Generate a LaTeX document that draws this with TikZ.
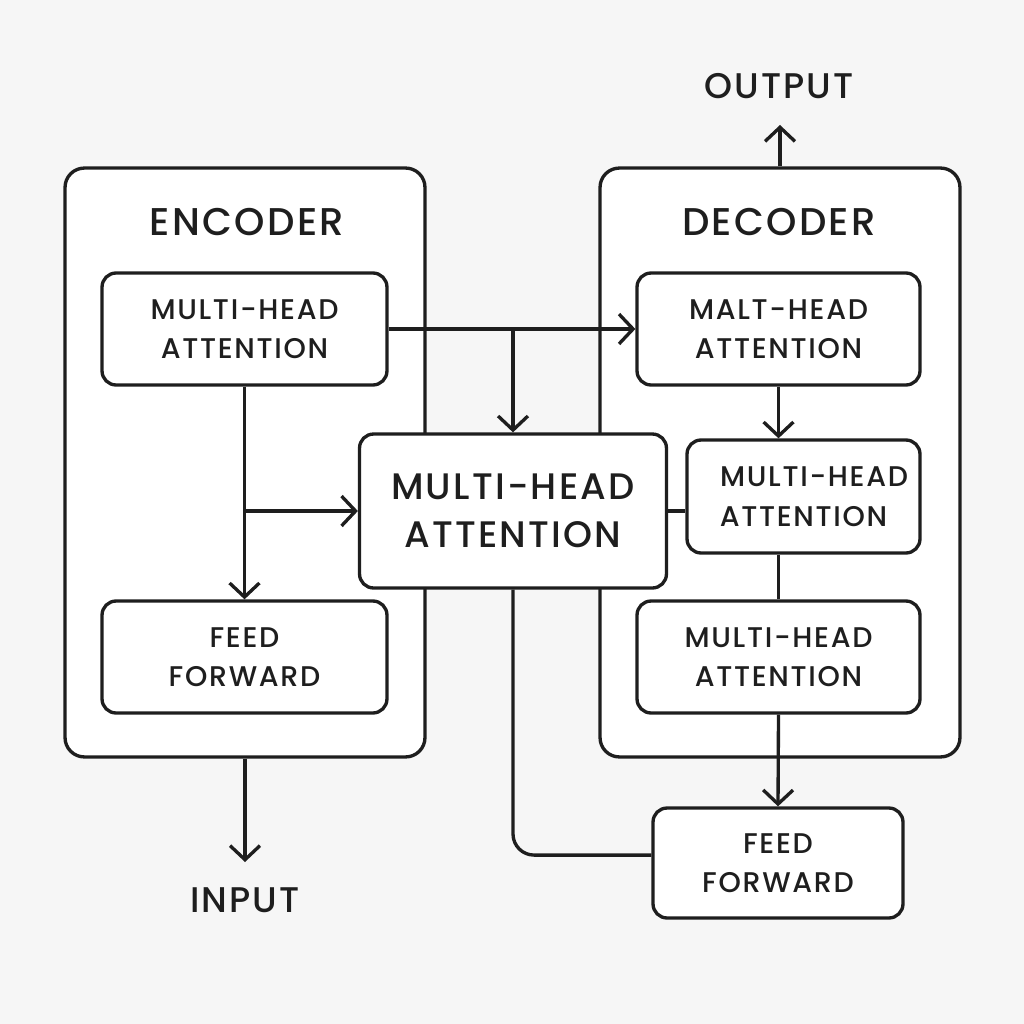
\documentclass[tikz,border=0pt]{standalone}
\usepackage{fontspec}
\setmainfont{Poppins}[UprightFont=* Medium, LetterSpace=6]
\usetikzlibrary{arrows.meta,positioning,calc}
\definecolor{bgcol}{HTML}{F6F6F6}
\definecolor{ink}{HTML}{1E1E1E}
\tikzset{
  outer/.style={rectangle, rounded corners=11pt, draw=ink, line width=1.9pt, fill=white},
  block/.style={rectangle, rounded corners=8pt, draw=ink, line width=1.9pt, fill=white,
    align=center, font=\fontsize{16.2}{22.5}\selectfont, text=ink,
    minimum width=5.7cm, minimum height=2.24cm},
  title/.style={font=\fontsize{22}{26}\selectfont, text=ink},
  io/.style={font=\fontsize{20.3}{24}\selectfont, text=ink},
  flow/.style={-{Straight Barb[length=8pt,width=17pt,line width=1.9pt]}, line width=1.9pt, draw=ink},
  link/.style={line width=1.9pt, draw=ink},
}

\begin{document}
\begin{tikzpicture}[x=0.02cm, y=-0.02cm]
  \fill[bgcol] (0,0) rectangle (1024,1024);
  \useasboundingbox (0,0) rectangle (1024,1024);
  % the two stacks
  \node[outer, minimum width=7.2cm, minimum height=11.78cm] (enc) at (245,462.5) {};
  \node[outer, minimum width=7.2cm, minimum height=11.78cm] (dec) at (780,462.5) {};
  \node[title] (enct) at (247,222) {ENCODER};
  \node[title] (dect) at (779,222) {DECODER};
  \node[io] (out) at (779,86) {OUTPUT};
  \node[io] (in) at (245,900) {INPUT};
  \coordinate (outend) at (780,125);
  \coordinate (inend) at (245,862);
  % blocks
  \node[block] (emha) at (244.5,329) {MULTI-HEAD\\ATTENTION};
  \node[block] (eff) at (244.5,657) {FEED\\FORWARD};
  \node[block, minimum width=6.14cm, minimum height=3.08cm,
    font=\fontsize{21}{27}\selectfont] (cmha) at (513,511) {MULTI-HEAD\\ATTENTION};
  \node[block, minimum width=5.66cm] (dmalt) at (778.5,329) {MALT-HEAD\\ATTENTION};
  \node[block, minimum width=4.66cm, minimum height=2.26cm] (dmha) at (803.5,496.5) {\hspace*{12pt}MULTI-HEAD\\ATTENTION};
  \node[block, minimum width=5.66cm] (dmhb) at (778.5,657) {MULTI-HEAD\\ATTENTION};
  \node[block, minimum width=5cm, minimum height=2.2cm] (dff) at (778,863) {FEED\\FORWARD};
  % connectors
  \draw[flow] (dec.north) -- (outend);
  \draw[flow] (enc.south) -- (inend);
  \draw[flow] (emha.east) -- (dmalt.west);
  \draw[flow] (emha.east -| cmha.north) -- (cmha.north);
  \draw[flow] (emha.south) -- (eff.north);
  \draw[flow] (emha.south |- cmha.west) -- (cmha.west);
  \draw[flow] (dmalt.south) -- (dmalt.south |- dmha.north);
  \draw[link] (cmha.east) -- (cmha.east -| dmha.west);
  \draw[link] (dmhb.north |- dmha.south) -- (dmhb.north);
  \draw[flow] (dmhb.south) -- (dff.north);
  \draw[link, rounded corners=12pt] (cmha.south) |- ([yshift=4.5pt]dff.west);
\end{tikzpicture}
\end{document}
